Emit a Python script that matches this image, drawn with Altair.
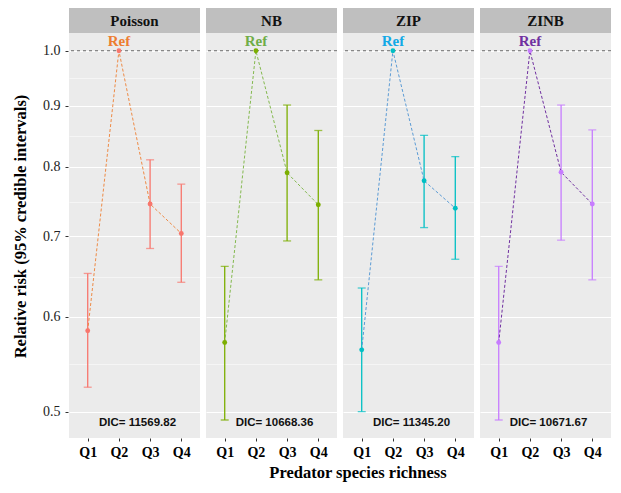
import altair as alt
import pandas as pd

models = ["Poisson", "NB", "ZIP", "ZINB"]
quartiles = ["Q1", "Q2", "Q3", "Q4"]

poisson_rr = [0.584, 1.0, 0.745, 0.704]
poisson_lo = [0.524, None, 0.684, 0.641]
poisson_hi = [0.652, None, 0.811, 0.774]

nb_rr = [0.571, 1.0, 0.791, 0.744]
nb_lo = [0.492, None, 0.694, 0.644]
nb_hi = [0.661, None, 0.901, 0.858]

zip_rr = [0.563, 1.0, 0.779, 0.739]
zip_lo = [0.500, None, 0.712, 0.670]
zip_hi = [0.634, None, 0.850, 0.816]

zinb_rr = [0.571, 1.0, 0.792, 0.745]
zinb_lo = [0.492, None, 0.695, 0.644]
zinb_hi = [0.661, None, 0.901, 0.859]

dic_values = [11569.82, 10668.36, 11345.20, 10671.67]

major_ticks = [0.5, 0.6, 0.7, 0.8, 0.9, 1.0]

point_colors = ["#F8766D", "#7CAE00", "#00BFC4", "#C77CFF"]
line_colors = ["#EE8A45", "#84B94F", "#5B9BD5", "#7030A0"]
ref_colors = ["#ED7D31", "#70AD47", "#12A9E6", "#7030A0"]

rows = []
series = [
    (poisson_rr, poisson_lo, poisson_hi),
    (nb_rr, nb_lo, nb_hi),
    (zip_rr, zip_lo, zip_hi),
    (zinb_rr, zinb_lo, zinb_hi),
]
for m, (r, lo, hi), d in zip(models, series, dic_values):
    for q, v, l, h in zip(quartiles, r, lo, hi):
        rows.append({"model": m, "q": q, "rr": v, "lo": l, "hi": h, "dic": d})
df = pd.DataFrame(rows)

# grid values: majors plus log-midpoint minors
grid_vals = []
for a, b in zip(major_ticks[:-1], major_ticks[1:]):
    grid_vals += [a, (a * b) ** 0.5]
grid_vals.append(major_ticks[-1])

is_major = "abs(datum.value*10 - round(datum.value*10)) < 0.001"

W = 131
H = 405
serif = "Liberation Serif"

y_scale = alt.Scale(type="log", domain=[0.4753, 1.0347], nice=False, zero=False)
y_axis = alt.Axis(
    title="Relative risk (95% credible intervals)",
    values=grid_vals,
    labelExpr=f"{is_major} ? format(datum.value, '.1f') : ''",
    labelOverlap=False,
    labelFont=serif,
    labelFontSize=14,
    labelColor="#222222",
    labelPadding=5,
    tickSize=3,
    tickColor="#333333",
    tickOpacity={"condition": {"test": is_major, "value": 1}, "value": 0},
    gridColor="white",
    gridWidth={"condition": {"test": is_major, "value": 1.1}, "value": 0.5},
    domain=False,
    titleFont=serif,
    titleFontSize=16.5,
    titleFontWeight="bold",
    titleColor="black",
    titlePadding=14,
    titleY=193,
)

x_enc = alt.X(
    "q:N",
    sort=quartiles,
    scale=alt.Scale(type="point", padding=0.6),
    axis=alt.Axis(
        title=None,
        labelAngle=0,
        labelFont=serif,
        labelFontSize=14,
        labelFontWeight="bold",
        labelColor="black",
        labelPadding=4,
        tickSize=3,
        tickColor="#333333",
        gridColor="white",
        gridWidth=1.1,
        domain=False,
    ),
)

col_scale = alt.Scale(domain=models, range=point_colors)
line_scale = alt.Scale(domain=models, range=line_colors)
ref_scale = alt.Scale(domain=models, range=ref_colors)

base = alt.Chart()

hline = base.mark_rule(color="#444444", strokeDash=[3, 3], strokeWidth=0.8).encode(
    y=alt.Y("rr:Q", scale=y_scale, axis=y_axis)
).transform_filter("datum.q == 'Q2'")

err = base.mark_rule(strokeWidth=1.3).encode(
    x=x_enc,
    y=alt.Y("lo:Q", scale=y_scale, axis=y_axis),
    y2="hi:Q",
    color=alt.Color("model:N", scale=col_scale, legend=None),
).transform_filter("isValid(datum.lo)")

cap_lo = base.mark_tick(size=8, thickness=1.3).encode(
    x=x_enc,
    y=alt.Y("lo:Q", scale=y_scale, axis=y_axis),
    color=alt.Color("model:N", scale=col_scale, legend=None),
).transform_filter("isValid(datum.lo)")

cap_hi = base.mark_tick(size=8, thickness=1.3).encode(
    x=x_enc,
    y=alt.Y("hi:Q", scale=y_scale, axis=y_axis),
    color=alt.Color("model:N", scale=col_scale, legend=None),
).transform_filter("isValid(datum.hi)")

line = base.mark_line(strokeDash=[3, 2], strokeWidth=1).encode(
    x=x_enc,
    y=alt.Y("rr:Q", scale=y_scale, axis=y_axis),
    stroke=alt.Stroke("model:N", scale=line_scale, legend=None),
)

pts = base.mark_point(filled=True, size=24, opacity=1).encode(
    x=x_enc,
    y=alt.Y("rr:Q", scale=y_scale, axis=y_axis),
    color=alt.Color("model:N", scale=col_scale, legend=None),
)

ref_txt = base.mark_text(
    text="Ref", font=serif, fontSize=15, fontWeight="bold", baseline="middle", dy=-10
).encode(
    x=x_enc,
    y=alt.Y("rr:Q", scale=y_scale, axis=y_axis),
    fill=alt.Fill("model:N", scale=ref_scale, legend=None),
).transform_filter("datum.q == 'Q2'")

dic_txt = base.transform_filter("datum.q == 'Q2'").transform_calculate(
    label="'DIC= ' + format(datum.dic, '.2f')"
).mark_text(
    font="Liberation Sans", fontSize=11.5, fontWeight="bold", color="#111111", baseline="middle"
).encode(
    text="label:N",
    x=alt.value(W / 2 + 3),
    y=alt.value(H - 15),
)

strip = base.mark_rect(color="#BFBFBF").encode(
    x=alt.value(0), x2=alt.value(W), y=alt.value(-25), y2=alt.value(0)
).transform_filter("datum.q == 'Q2'")

strip_txt = base.mark_text(
    font=serif, fontSize=15, fontWeight="bold", color="#111111", baseline="middle"
).encode(
    text="model:N", x=alt.value(W / 2), y=alt.value(-12.5)
).transform_filter("datum.q == 'Q2'")

layered = alt.layer(
    hline, err, cap_lo, cap_hi, line, pts, ref_txt, dic_txt, strip, strip_txt,
    data=df,
).properties(width=W, height=H)

chart = layered.facet(
    column=alt.Column("model:N", sort=models, header=alt.Header(title=None, labels=False)),
    spacing=4,
).properties(
    title=alt.TitleParams(
        text="Predator species richness",
        orient="bottom",
        anchor="middle",
        frame="bounds",
        dx=46,
        offset=6,
        font=serif,
        fontSize=16.5,
        fontWeight="bold",
        color="black",
    ),
    padding={"left": 4, "top": 0, "right": 0, "bottom": 0},
).configure_view(
    fill="#EBEBEB", stroke=None
)

chart.save("out.html", embed_options={"renderer": "svg", "actions": False})
